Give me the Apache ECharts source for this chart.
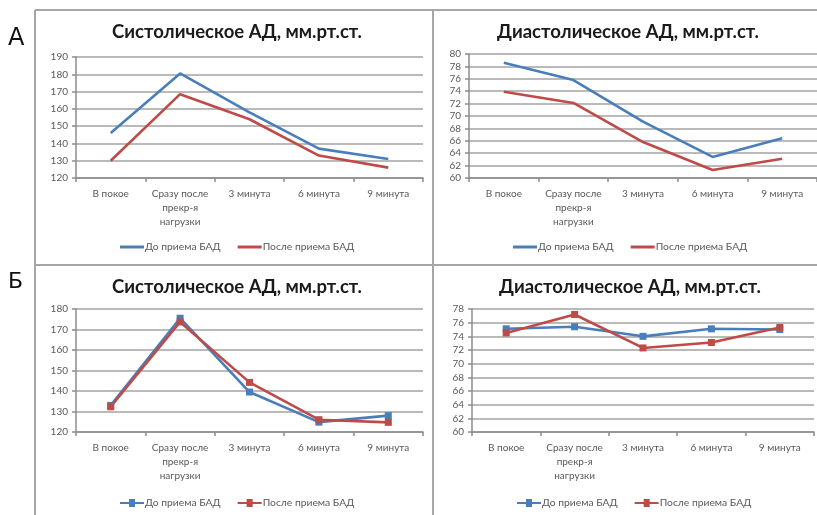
<!DOCTYPE html>
<html>
<head>
<meta charset="utf-8">
<script src="https://cdn.jsdelivr.net/npm/echarts@6/dist/echarts.min.js"></script>
<style>
  html, body { margin: 0; padding: 0; background: #fff; }
  #chart { width: 817px; height: 515px; }
</style>
</head>
<body>
<div id="chart"></div>
<script>
// categories shared by all four panels
var categories = ['В покое', 'Сразу после\nпрекр-я\nнагрузки', '3 минута', '6 минута', '9 минута'];
var seriesNames = ['До приема БАД', 'После приема БАД'];
var panelTitles = ['Систолическое АД, мм.рт.ст.', 'Диастолическое АД, мм.рт.ст.'];
var panelLetters = ['А', 'Б'];

// А - systolic / diastolic
var sysBeforeA = [146, 180.5, 158, 137, 131];
var sysAfterA = [130, 168.5, 154, 133, 126];
var diaBeforeA = [78.6, 75.8, 69.1, 63.4, 66.4];
var diaAfterA = [73.9, 72.1, 65.8, 61.3, 63.1];

// Б - systolic / diastolic
var sysBeforeB = [133, 175.5, 139.5, 124.8, 128];
var sysAfterB = [132.3, 173.7, 144.2, 126, 124.7];
var diaBeforeB = [75.1, 75.4, 74.0, 75.1, 75.0];
var diaAfterB = [74.5, 77.2, 72.3, 73.1, 75.3];

// y axis ranges [min, max, interval]
var yRanges = [[120, 190, 10], [60, 80, 2], [120, 180, 10], [60, 78, 2]];

var FONT = 'Lato';
var BLUE = '#4a7ebb';
var RED = '#be4b48';
var GRID_COLOR = '#a3a3a3';
var LABEL_COLOR = '#595959';

var grids = [
    { left: 76, top: 57, width: 347, height: 121 },
    { left: 469, top: 54, width: 348, height: 124 },
    { left: 76, top: 309, width: 347, height: 123 },
    { left: 472, top: 309, width: 342, height: 123 }
];

var xAxes = grids.map(function(g, i) {
    return {
        type: 'category',
        gridIndex: i,
        data: categories,
        boundaryGap: true,
        axisLine: { lineStyle: { color: '#8c8c8c', width: 1.5 } },
        axisTick: { show: true, length: 4, lineStyle: { color: '#8c8c8c', width: 1.5 } },
        axisLabel: {
            color: LABEL_COLOR,
            fontFamily: FONT,
            fontSize: 10,
            lineHeight: 14,
            margin: 9,
            interval: 0
        }
    };
});

var yAxes = grids.map(function(g, i) {
    return {
        type: 'value',
        gridIndex: i,
        min: yRanges[i][0],
        max: yRanges[i][1],
        interval: yRanges[i][2],
        axisLine: { show: true, lineStyle: { color: '#8c8c8c', width: 1.5 } },
        axisTick: { show: true, length: 4, lineStyle: { color: '#8c8c8c', width: 1.5 } },
        splitLine: { lineStyle: { color: GRID_COLOR, width: 1.5 } },
        axisLabel: {
            color: LABEL_COLOR,
            fontFamily: FONT,
            fontSize: 10,
            margin: 8
        }
    };
});

var panelData = [
    [sysBeforeA, sysAfterA],
    [diaBeforeA, diaAfterA],
    [sysBeforeB, sysAfterB],
    [diaBeforeB, diaAfterB]
];

var series = [];
panelData.forEach(function(pair, i) {
    var withMarkers = i >= 2;
    pair.forEach(function(values, k) {
        series.push({
            name: seriesNames[k],
            type: 'line',
            xAxisIndex: i,
            yAxisIndex: i,
            data: values,
            symbol: withMarkers ? 'rect' : 'none',
            symbolSize: 7,
            showSymbol: withMarkers,
            lineStyle: { width: 2.6, color: k === 0 ? BLUE : RED },
            itemStyle: { color: k === 0 ? BLUE : RED },
            animation: false
        });
    });
});

var titleCenters = [[237, 23], [628, 23], [237, 278], [630, 278]];
var titles = titleCenters.map(function(c, i) {
    return {
        text: panelTitles[i % 2],
        left: c[0],
        top: c[1],
        textAlign: 'center',
        padding: 0,
        textStyle: { fontFamily: FONT, fontSize: 18.5, fontWeight: 'bold', color: '#1a1a1a' }
    };
});

var markerIcon = 'path://M0,3 H9 V0 H15 V3 H24 V5 H15 V8 H9 V5 H0 Z';
var legendPos = [[120, 242], [513, 242], [120, 498], [517, 498]];
var legends = legendPos.map(function(p, i) {
    var withMarkers = i >= 2;
    return {
        left: p[0],
        top: p[1],
        itemGap: 17,
        itemWidth: 24,
        itemHeight: withMarkers ? 8 : 3,
        icon: withMarkers ? markerIcon : 'rect',
        padding: 0,
        data: seriesNames,
        textStyle: { fontFamily: FONT, fontSize: 10.3, color: LABEL_COLOR, padding: [0, 0, 0, -4] }
    };
});

var chart = echarts.init(document.getElementById('chart'), null, { renderer: 'canvas' });
chart.setOption({
    backgroundColor: '#fff',
    animation: false,
    title: titles,
    legend: legends,
    grid: grids,
    xAxis: xAxes,
    yAxis: yAxes,
    series: series,
    graphic: [
        // panel borders
        { type: 'line', shape: { x1: 35, y1: 10, x2: 817, y2: 10 }, style: { stroke: '#a6a6a6', lineWidth: 2 } },
        { type: 'line', shape: { x1: 35, y1: 10, x2: 35, y2: 515 }, style: { stroke: '#a6a6a6', lineWidth: 2 } },
        { type: 'line', shape: { x1: 433, y1: 10, x2: 433, y2: 515 }, style: { stroke: '#a6a6a6', lineWidth: 2 } },
        { type: 'line', shape: { x1: 35, y1: 265, x2: 817, y2: 265 }, style: { stroke: '#a6a6a6', lineWidth: 2 } },
        // panel letters
        { type: 'text', left: 8, top: 27, style: { text: panelLetters[0], font: '24px "DejaVu Sans"', fill: '#111' } },
        { type: 'text', left: 8, top: 271, style: { text: panelLetters[1], font: '22px "DejaVu Sans"', fill: '#111' } }
    ]
});
window.addEventListener('resize', function() { chart.resize(); });
</script>
</body>
</html>
